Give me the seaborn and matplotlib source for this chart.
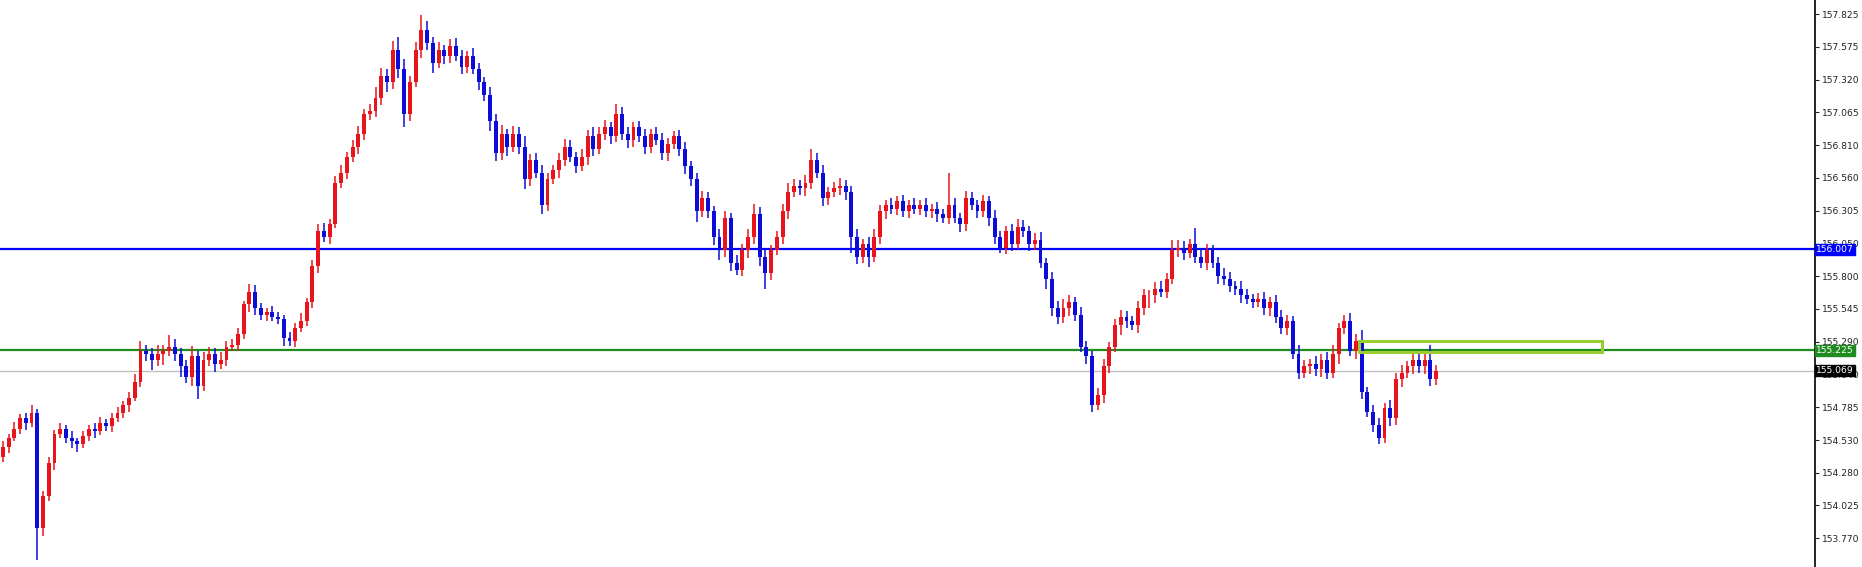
import numpy as np
import pandas as pd
import seaborn as sns
import matplotlib
matplotlib.use("Agg")
import matplotlib.pyplot as plt
from matplotlib.patches import Rectangle

closes = [154.48,154.55,154.62,154.70,154.66,154.74,153.85,154.10,154.35,154.58,
154.62,154.55,154.52,154.50,154.56,154.62,154.60,154.66,154.64,154.70,
154.74,154.80,154.86,154.98,155.22,155.20,155.15,155.20,155.22,155.25,
155.20,155.10,155.02,155.18,154.95,155.15,155.20,155.12,155.15,155.25,
155.27,155.35,155.58,155.68,155.55,155.50,155.52,155.48,155.47,155.32,
155.30,155.40,155.45,155.60,155.88,156.15,156.10,156.20,156.52,156.60,
156.72,156.80,156.90,157.05,157.08,157.18,157.35,157.30,157.55,157.40,
157.05,157.30,157.55,157.70,157.60,157.45,157.55,157.50,157.58,157.50,
157.42,157.50,157.40,157.30,157.20,157.00,156.75,156.90,156.80,156.90,
156.80,156.55,156.70,156.60,156.35,156.55,156.62,156.70,156.80,156.72,
156.65,156.72,156.88,156.78,156.90,156.95,156.88,157.05,156.90,156.85,
156.95,156.88,156.80,156.90,156.85,156.75,156.82,156.88,156.78,156.65,
156.55,156.30,156.40,156.30,156.10,156.00,156.25,155.90,155.85,156.00,
156.10,156.28,155.95,155.82,156.00,156.10,156.30,156.45,156.50,156.48,
156.52,156.70,156.60,156.40,156.45,156.48,156.50,156.45,156.10,155.95,
156.05,155.95,156.10,156.30,156.35,156.32,156.38,156.30,156.35,156.32,
156.35,156.30,156.32,156.28,156.25,156.35,156.25,156.20,156.40,156.35,
156.30,156.38,156.25,156.10,156.02,156.15,156.05,156.18,156.15,156.05,
156.08,155.90,155.78,155.55,155.48,155.55,155.60,155.50,155.25,155.18,
154.80,154.88,155.10,155.25,155.42,155.48,155.45,155.42,155.55,155.65,
155.65,155.70,155.68,155.78,156.00,156.02,155.98,156.05,155.95,155.90,
156.00,155.90,155.80,155.78,155.72,155.70,155.65,155.62,155.60,155.62,
155.55,155.60,155.48,155.40,155.45,155.20,155.05,155.10,155.12,155.08,
155.15,155.05,155.20,155.40,155.45,155.22,155.30,154.90,154.75,154.65,
154.55,154.78,154.70,155.00,155.05,155.10,155.15,155.10,155.15,155.00,
155.069]
first_open = 154.40
# wick extensions in hundredths
upper_wick = [4,3,5,3,4,6,3,4,5,3, 4,3,5,3,4,3,4,5,3,4, 5,3,4,6,8,5,4,7,5,9, 6,4,5,8,4,6,5,4,6,5,
4,5,3,6,5,4,3,5,4,3, 5,4,6,3,4,5,6,4,5,6, 4,5,6,4,5,8,6,5,7,10, 8,5,6,12,7,5,6,4,5,6,
5,4,6,5,4,6,5,7,4,6, 5,8,4,5,6,5,4,5,6,5, 4,6,5,7,5,6,4,8,6,5, 4,5,6,4,5,6,5,4,5,6,
4,5,6,5,4,6,5,4,6,5, 6,8,5,6,4,5,6,7,5,4, 6,8,5,6,4,5,6,4,5,6, 4,5,6,5,4,5,4,5,4,5,
4,5,4,5,4,25,5,4,6,5, 4,5,4,6,5,4,5,6,5,4, 5,6,4,5,6,7,5,4,6,5, 4,5,6,4,5,6,5,4,6,5,
4,5,6,4,8,6,5,4,12,6, 5,4,5,6,5,4,6,5,4,5, 6,4,5,6,5,4,7,5,4,6, 5,6,7,4,5,6,5,8,4,5,
5,4,6,5,6,4,5,6,5,12,4]
lower_wick = [4,5,3,4,5,3,25,6,4,5, 3,4,5,6,3,4,5,3,4,5, 3,4,5,3,4,6,8,5,9,4, 6,8,5,7,10,4,5,6,4,5,
3,5,4,6,5,4,5,3,4,6, 4,5,3,4,5,6,4,5,3,4, 5,4,6,5,4,5,6,8,5,7, 10,5,4,6,5,8,4,6,5,4,
6,5,4,6,5,8,6,5,7,4, 6,8,5,4,7,5,4,6,5,4, 5,4,6,5,4,5,6,4,5,6, 5,4,6,5,4,5,6,4,5,6,
5,8,4,5,6,8,5,6,4,5, 6,5,7,12,5,4,5,6,4,5, 6,5,4,6,5,4,5,6,12,6, 5,8,4,5,6,4,5,4,5,4,
5,4,5,6,4,5,4,6,5,4, 5,4,6,5,4,5,6,4,5,6, 5,4,8,6,5,4,6,5,4,6, 5,4,6,5,4,8,5,4,6,5,
10,6,4,5,4,5,6,4,5,4, 5,4,6,5,4,5,6,4,5,4, 5,6,4,5,6,4,5,4,6,5, 6,5,4,8,5,4,6,5,4,6,
5,4,6,5,6,4,6,5,6,5,4]

tick_vals = [157.825,157.575,157.320,157.065,156.810,156.560,156.305,156.050,155.800,
155.545,155.290,155.040,154.785,154.530,154.280,154.025,153.770]
tick_labels = ["157.825","157.575","157.320","157.065","156.810","156.560","156.305","156.050",
"155.800","155.545","155.290","155.040","154.785","154.530","154.280","154.025","153.770"]
levels = [156.007, 155.225, 155.069]
level_labels = ["156.007", "155.225", "155.069"]
zone_start, zone_end = 236.6, 279.0
zone_low, zone_high = 155.215, 155.30

n = len(closes)
opens = [first_open] + closes[:-1]
df = pd.DataFrame({"i": np.arange(n), "open": opens, "close": closes})
df["high"] = np.maximum(df.open, df.close) + np.array(upper_wick[:n]) / 100
df["low"] = np.minimum(df.open, df.close) - np.array(lower_wick[:n]) / 100
df["up"] = df.close >= df.open

sns.set_style("white")
RED, BLUE = "#e8141c", "#0c0cd8"
fig = plt.figure(figsize=(18.62, 5.67), dpi=100)
ax = fig.add_axes([0, 0, 1815/1862, 1])
colors = np.where(df.up, RED, BLUE)
ax.vlines(df.i, df.low, df.high, colors=colors, lw=1.1, zorder=3)
bottoms = np.minimum(df.open, df.close)
heights = np.maximum(np.abs(df.close - df.open), 0.006)
ax.bar(df.i, heights, bottom=bottoms, width=0.68, color=colors, linewidth=0, zorder=4)

ax.axhline(levels[0], color="#0000ff", lw=1.6, zorder=2)
ax.axhline(levels[1], color="#1e8c1e", lw=1.6, zorder=2)
ax.axhline(levels[2], color="#c0c0c0", lw=1.0, zorder=1)
ax.add_patch(Rectangle((zone_start, zone_low), zone_end - zone_start, zone_high - zone_low,
                       fill=False, edgecolor="#9acd32", lw=2.2, zorder=5))

ax.set_xlim(-0.5, 1815/5.733 - 0.5)
ax.set_ylim(153.549, 157.935)
ax.set_xticks([])
ax.yaxis.tick_right()
ax.set_yticks(tick_vals)
ax.set_yticklabels(tick_labels, fontsize=6.6, color="#222222", family="DejaVu Sans")
ax.tick_params(axis="y", direction="out", length=3, width=0.8, pad=2)
for s in ["top", "left", "bottom"]:
    ax.spines[s].set_visible(False)
ax.spines["right"].set_color("black")
ax.spines["right"].set_linewidth(1.2)

for val, lab, fc in zip(levels, level_labels, ["#0000ff", "#1e8c1e", "#000000"]):
    ax.annotate(lab, xy=(1.0, val), xycoords=("axes fraction", "data"), xytext=(1, 0),
                textcoords="offset points", va="center", ha="left", fontsize=6.6,
                color="white", zorder=10, annotation_clip=False,
                bbox=dict(boxstyle="square,pad=0.12", fc=fc, ec=fc))

fig.savefig("out.png", dpi=100, facecolor="white")
